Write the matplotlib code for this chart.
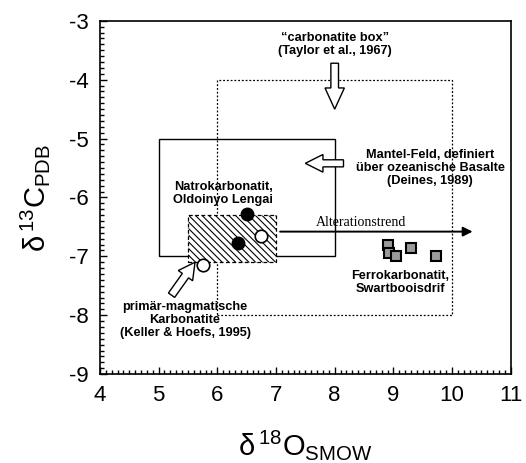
import numpy as np
import matplotlib
matplotlib.use('Agg')
import matplotlib.pyplot as plt
from matplotlib.patches import Rectangle, FancyArrow
from matplotlib.ticker import MultipleLocator

plt.rcParams['font.family'] = ['Liberation Sans', 'DejaVu Sans']
plt.rcParams['mathtext.fontset'] = 'custom'
plt.rcParams['mathtext.rm'] = 'Liberation Sans'
plt.rcParams['mathtext.it'] = 'Liberation Sans'
plt.rcParams['axes.unicode_minus'] = False
plt.rcParams['hatch.linewidth'] = 0.8

# --- data ---
natro_x = [6.5, 6.35]
natro_y = [-6.28, -6.78]
primary_x = [6.75, 5.75]
primary_y = [-6.65, -7.15]
ferro_x = [8.9, 8.92, 9.05, 9.3, 9.72]
ferro_y = [-6.8, -6.95, -7.0, -6.85, -7.0]

carbonatite_box = (6, -8, 4, 4)      # x0, y0, width, height
mantle_box = (5, -7, 3, 2)
natro_field = (5.5, -7.1, 1.5, 0.8)

fig = plt.figure(figsize=(5.26, 4.63), dpi=100)
ax = fig.add_axes([0.190, 0.192, 0.781, 0.763])

# fields
ax.add_patch(Rectangle(carbonatite_box[:2], *carbonatite_box[2:], fill=False,
                       edgecolor='black', linewidth=0.9, linestyle=(0, (1.5, 1.5))))
ax.add_patch(Rectangle(mantle_box[:2], *mantle_box[2:], fill=False,
                       edgecolor='black', linewidth=1.0))
ax.add_patch(Rectangle(natro_field[:2], *natro_field[2:], facecolor='white',
                       edgecolor='black', linewidth=0.9, linestyle=(0, (3, 2)),
                       hatch='\\\\\\\\\\', zorder=2))

# alteration trend
ax.annotate('', xy=(10.35, -6.58), xytext=(7.07, -6.58),
            arrowprops=dict(arrowstyle='-|>', color='black', lw=1.4,
                            mutation_scale=14, shrinkA=0, shrinkB=0), zorder=3)
ax.text(8.45, -6.42, 'Alterationstrend', family=['Liberation Serif'],
        fontsize=10, ha='center', va='center')

# hollow arrows
hollow = dict(facecolor='white', edgecolor='black', linewidth=1.0,
              length_includes_head=True, zorder=4)
ax.add_patch(FancyArrow(8.0, -3.72, 0, -0.78, width=0.13, head_width=0.33,
                        head_length=0.36, **hollow))
ax.add_patch(FancyArrow(8.15, -5.42, -0.65, 0, width=0.12, head_width=0.3,
                        head_length=0.3, **hollow))
ax.add_patch(FancyArrow(5.22, -7.66, 0.4, 0.56, width=0.13, head_width=0.3,
                        head_length=0.28, **hollow))

# points
ax.plot(natro_x, natro_y, 'o', color='black', markersize=9, zorder=5)
ax.plot(primary_x, primary_y, 'o', markerfacecolor='white', markeredgecolor='black',
        markeredgewidth=1.2, markersize=9, zorder=5)
ax.plot(ferro_x, ferro_y, 's', markerfacecolor='#9a9a9a', markeredgecolor='black',
        markeredgewidth=1.5, markersize=7, zorder=5)

# labels
lab = dict(fontsize=9.2, fontweight='bold', ha='center', va='center', linespacing=1.1)
ax.text(8.0, -3.4, '\u201ccarbonatite box\u201d\n(Taylor et al., 1967)', **lab)
ax.text(9.63, -5.5, 'Mantel-Feld, definiert\n\u00fcber ozeanische Basalte\n(Deines, 1989)', **lab)
ax.text(6.1, -5.94, 'Natrokarbonatit,\nOldoinyo Lengai', **lab)
ax.text(9.12, -7.45, 'Ferrokarbonatit,\nSwartbooisdrif', **lab)
ax.text(5.45, -8.08, 'prim\u00e4r-magmatische\nKarbonatite\n(Keller & Hoefs, 1995)', **lab)

# axes
ax.set_xlim(4, 11)
ax.set_ylim(-9, -3)
ax.xaxis.set_major_locator(MultipleLocator(1))
ax.yaxis.set_major_locator(MultipleLocator(1))
ax.xaxis.set_minor_locator(MultipleLocator(0.1))
ax.yaxis.set_minor_locator(MultipleLocator(0.1))
ax.tick_params(which='both', direction='in', top=False, right=False, width=1.0)
ax.tick_params(which='major', length=5, labelsize=16, pad=8)
ax.tick_params(which='minor', length=3)
for s in ax.spines.values():
    s.set_linewidth(1.2)
ax.set_xlabel(r'$\delta\,^{18}\mathrm{O}_{\mathrm{SMOW}}$', fontsize=21, labelpad=16)
ax.set_ylabel(r'$\delta\,^{13}\mathrm{C}_{\mathrm{PDB}}$', fontsize=21, labelpad=12)

fig.savefig('out.png', dpi=100)
